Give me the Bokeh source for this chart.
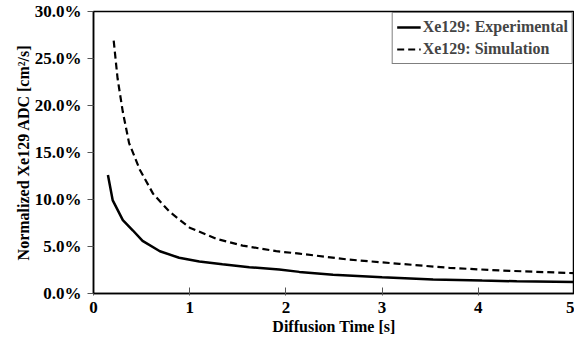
from bokeh.plotting import figure
from bokeh.models import Range1d, PrintfTickFormatter, FixedTicker, Legend, LegendItem
from bokeh.embed import file_html
from bokeh.resources import INLINE

exp_t = [0.15, 0.2, 0.305, 0.41, 0.51, 0.69, 0.89, 1.10, 1.34, 1.62, 1.93, 2.14, 2.49, 3.0, 3.53, 4.04, 4.4, 5.0]
exp_adc = [12.6, 9.9, 7.8, 6.7, 5.6, 4.5, 3.8, 3.4, 3.1, 2.8, 2.55, 2.3, 2.0, 1.73, 1.48, 1.37, 1.3, 1.22]

sim_t = [0.21, 0.25, 0.305, 0.37, 0.48, 0.62, 0.79, 1.0, 1.28, 1.55, 1.9, 2.14, 2.66, 3.18, 3.7, 4.22, 5.0]
sim_adc = [26.9, 22.9, 19.3, 16.0, 13.2, 10.6, 8.7, 7.0, 5.8, 5.1, 4.5, 4.24, 3.6, 3.16, 2.73, 2.45, 2.16]

y_ticks = [0, 5, 10, 15, 20, 25, 30]
x_ticks = [0, 1, 2, 3, 4, 5]

FONT = "Liberation Serif"

p = figure(width=574, height=337, output_backend="svg", toolbar_location=None,
           x_range=Range1d(0, 5), y_range=Range1d(0, 30),
           min_border_left=93, min_border_right=0, min_border_top=11, min_border_bottom=44)
p.grid.visible = False
p.outline_line_color = "black"
p.outline_line_width = 1.5
p.background_fill_color = "white"

r1 = p.line(exp_t, exp_adc, line_color="black", line_width=2.5)
r2 = p.line(sim_t, sim_adc, line_color="black", line_width=2.2, line_dash="7 4")

for ax in (p.xaxis[0], p.yaxis[0]):
    ax.axis_line_color = "black"
    ax.axis_line_width = 1.5
    ax.major_tick_line_color = "#555555"
    ax.minor_tick_line_color = None
    ax.major_label_text_font = FONT
    ax.major_label_text_font_style = "bold"
    ax.major_label_text_font_size = "17px"
    ax.major_label_text_color = "black"
    ax.axis_label_text_font = FONT
    ax.axis_label_text_font_style = "bold"
    ax.axis_label_text_font_size = "16px"
    ax.axis_label_text_color = "black"

p.xaxis.ticker = FixedTicker(ticks=x_ticks)
p.yaxis.ticker = FixedTicker(ticks=y_ticks)
p.yaxis.formatter = PrintfTickFormatter(format="%.1f%%")
p.xaxis.major_tick_in = 6
p.xaxis.major_tick_out = 2
p.yaxis.major_tick_in = 0
p.yaxis.major_tick_out = 6
p.xaxis.major_label_standoff = 6
p.yaxis.major_label_standoff = 6
p.xaxis.axis_label = "Diffusion Time [s]"
p.yaxis.axis_label = "Normalized Xe129 ADC [cm\u00b2/s]"
p.xaxis.axis_label_standoff = 2
p.yaxis.axis_label_standoff = 0

legend = Legend(items=[LegendItem(label="Xe129: Experimental", renderers=[r1]),
                       LegendItem(label="Xe129: Simulation", renderers=[r2])],
                location="top_right")
legend.label_text_font = FONT
legend.label_text_font_style = "bold"
legend.label_text_font_size = "16px"
legend.border_line_color = "black"
legend.border_line_width = 1
legend.margin = 1
legend.padding = 4
legend.spacing = 2
legend.glyph_width = 24
legend.label_standoff = 2
legend.label_height = 20
legend.glyph_height = 20
p.add_layout(legend)

open("out.html", "w").write(file_html(p, INLINE))
